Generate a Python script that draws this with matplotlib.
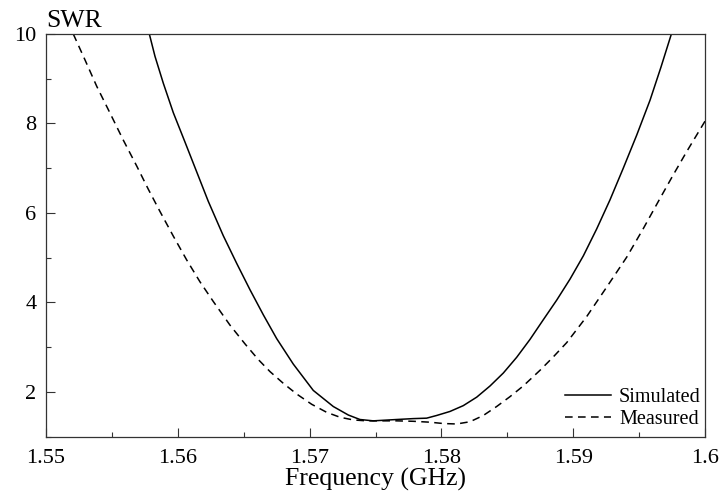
import matplotlib
matplotlib.use("Agg")
import matplotlib.pyplot as plt
from matplotlib.ticker import MultipleLocator

# Data
sim_f = [1.55784, 1.55827, 1.55890, 1.55966, 1.56055, 1.56143, 1.56231, 1.56345,
         1.56447, 1.56548, 1.56649, 1.56750, 1.56876, 1.57028, 1.57180, 1.57294,
         1.57382, 1.57483, 1.57661, 1.57787, 1.57888, 1.57964, 1.58065, 1.58166,
         1.58268, 1.58369, 1.58470, 1.58571, 1.58672, 1.58773, 1.58875, 1.58976,
         1.59077, 1.59178, 1.59279, 1.59380, 1.59482, 1.59583, 1.59666, 1.59747]
sim_v = [10.00, 9.50, 8.90, 8.24, 7.58, 6.92, 6.26, 5.49,
         4.87, 4.28, 3.72, 3.19, 2.62, 2.03, 1.67, 1.48,
         1.38, 1.35, 1.38, 1.40, 1.41, 1.47, 1.56, 1.69,
         1.88, 2.13, 2.42, 2.77, 3.17, 3.61, 4.05, 4.52,
         5.04, 5.64, 6.29, 7.00, 7.74, 8.52, 9.26, 10.02]

meas_f = [1.55207, 1.55296, 1.55385, 1.55486, 1.55586, 1.55688, 1.55776, 1.55865,
          1.55966, 1.56067, 1.56168, 1.56269, 1.56396, 1.56510, 1.56611, 1.56700,
          1.56800, 1.56902, 1.57016, 1.57130, 1.57231, 1.57332, 1.57433, 1.57534,
          1.57661, 1.57787, 1.57913, 1.58014, 1.58116, 1.58217, 1.58318, 1.58419,
          1.58520, 1.58621, 1.58748, 1.58849, 1.58951, 1.59102, 1.59254, 1.59406,
          1.59532, 1.59658, 1.59759, 1.59861, 1.60000]
meas_v = [10.00, 9.42, 8.83, 8.23, 7.63, 7.05, 6.53, 6.03,
          5.48, 4.95, 4.46, 4.02, 3.49, 3.07, 2.72, 2.45,
          2.19, 1.95, 1.72, 1.54, 1.43, 1.37, 1.35, 1.35,
          1.35, 1.34, 1.32, 1.29, 1.28, 1.33, 1.47, 1.67,
          1.89, 2.13, 2.48, 2.78, 3.10, 3.68, 4.34, 5.01,
          5.65, 6.32, 6.85, 7.37, 8.05]

x_ticks = [1.55, 1.56, 1.57, 1.58, 1.59, 1.60]
x_tick_labels = ["1.55", "1.56", "1.57", "1.58", "1.59", "1.6"]
y_ticks = [2, 4, 6, 8, 10]

plt.rcParams['font.family'] = ['Liberation Serif', 'DejaVu Serif']

fig = plt.figure(figsize=(7.25, 5.01), dpi=100)
ax = fig.add_axes([46/725, 1-436.5/501, (705-46)/725, (436.5-34)/501])

ax.plot(sim_f, sim_v, color='black', lw=1.1, label='Simulated')
ax.plot(meas_f, meas_v, color='black', lw=1.1, dashes=(5, 3.5), label='Measured')

ax.set_xlim(1.55, 1.60)
ax.set_ylim(1, 10)
ax.set_xticks(x_ticks)
ax.set_xticklabels(x_tick_labels)
ax.set_yticks(y_ticks)
ax.xaxis.set_minor_locator(MultipleLocator(0.005))
ax.yaxis.set_minor_locator(MultipleLocator(1))
ax.tick_params(which='both', direction='in', top=False, right=False,
               labelsize=16, color='#333333')
ax.tick_params(which='major', length=6.5, width=0.8)
ax.tick_params(which='minor', length=3.5, width=0.8)
ax.tick_params(axis='x', pad=9)
ax.tick_params(axis='y', pad=7)
for s in ax.spines.values():
    s.set_linewidth(0.9)
    s.set_color('#333333')

ax.set_xlabel('Frequency (GHz)', fontsize=18.5, labelpad=0)
fig.text(46/725, 1-27/501, 'SWR', fontsize=18.5, ha='left', va='baseline')

leg = ax.legend(loc='lower right', bbox_to_anchor=(1.012, -0.012),
                frameon=False, fontsize=14.5,
                handlelength=2.3, handletextpad=0.4, labelspacing=0.15,
                borderaxespad=0.2)

fig.savefig('out.png', dpi=100)
